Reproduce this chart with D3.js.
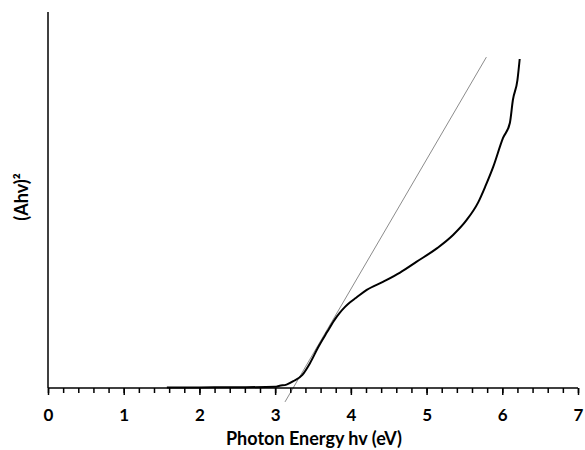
<!DOCTYPE html>
<html>
<head>
<meta charset="utf-8">
<script src="https://cdn.jsdelivr.net/npm/d3@7"></script>
<style>
  body { margin: 0; background: #fff; }
  text { font-family: Lato, "Open Sans", sans-serif; font-weight: bold; fill: #000; }
</style>
</head>
<body>
<div id="chart"></div>
<script>
// photon energy (eV) and (Ahv)^2
const energy = [1.57, 2.0, 2.5, 3.0, 3.06, 3.15, 3.24, 3.36, 3.46, 3.57, 3.69, 3.78, 3.85, 3.92, 3.99, 4.07, 4.21, 4.43, 4.65, 4.87, 5.14, 5.35, 5.53, 5.68, 5.78, 5.88, 6.01, 6.10, 6.14, 6.20, 6.23];
const absorb = [0.1, 0.15, 0.2, 0.3, 0.6, 0.9, 1.8, 3.5, 6.6, 10.9, 15.0, 18.0, 19.9, 21.5, 22.8, 24.0, 26.1, 28.3, 30.7, 33.6, 37.2, 40.7, 44.7, 49.3, 53.8, 58.8, 66.5, 70.5, 76.6, 81.9, 87.5];

// tangent line endpoints
const tangentX = [3.13, 5.79];
const tangentY = [-3.7, 88.0];

const xTicks = [0, 1, 2, 3, 4, 5, 6, 7];

const width = 585, height = 450;
const margin = {left: 48, right: 7, top: 12, bottom: 62};

const svg = d3.select("#chart").append("svg")
  .attr("width", width)
  .attr("height", height);

const x = d3.scaleLinear().domain([0, 7]).range([margin.left, width - margin.right]);
const y = d3.scaleLinear().domain([0, 100]).range([height - margin.bottom, margin.top]);

//接線
svg.append("line")
  .attr("x1", x(tangentX[0])).attr("y1", y(tangentY[0]))
  .attr("x2", x(tangentX[1])).attr("y2", y(tangentY[1]))
  .attr("stroke", "#8c8c8c")
  .attr("stroke-width", 1);

//データ曲線
const line = d3.line()
  .x(function(d){ return x(d[0]); })
  .y(function(d){ return y(d[1]); })
  .curve(d3.curveMonotoneX);

svg.append("path")
  .datum(energy.map(function(e, i){ return [e, absorb[i]]; }))
  .attr("d", line)
  .attr("fill", "none")
  .attr("stroke", "#000")
  .attr("stroke-width", 2);

//x軸 (小目盛り)
const minor = d3.range(0, 7.001, 0.2);
svg.append("g")
  .attr("transform", "translate(0," + y(0) + ")")
  .call(d3.axisBottom(x).tickValues(minor).tickSize(5).tickFormat(""))
  .call(function(g){
    g.select(".domain").remove();
    g.selectAll("line").attr("stroke-width", 1.5);
  });

//x軸 (主目盛り)
svg.append("g")
  .attr("transform", "translate(0," + y(0) + ")")
  .call(d3.axisBottom(x).tickValues(xTicks).tickSize(7).tickPadding(14).tickFormat(d3.format("d")))
  .call(function(g){
    g.select(".domain").attr("stroke-width", 1.5).attr("d", "M" + x(0) + ",0H" + x(7));
    g.selectAll("line").attr("stroke-width", 1.5);
    g.selectAll("text").style("font-size", "17px");
  });

//y軸
svg.append("line")
  .attr("x1", x(0)).attr("x2", x(0))
  .attr("y1", y(0)).attr("y2", y(100))
  .attr("stroke", "#000")
  .attr("stroke-width", 1.5);

svg.append("text")
  .attr("x", 314)
  .attr("y", 445)
  .attr("text-anchor", "middle")
  .style("font-size", "18px")
  .text("Photon Energy hv (eV)");

svg.append("text")
  .attr("transform", "translate(28,197) rotate(-90)")
  .attr("text-anchor", "middle")
  .style("font-size", "18px")
  .text("(Ahv)²");
</script>
</body>
</html>
